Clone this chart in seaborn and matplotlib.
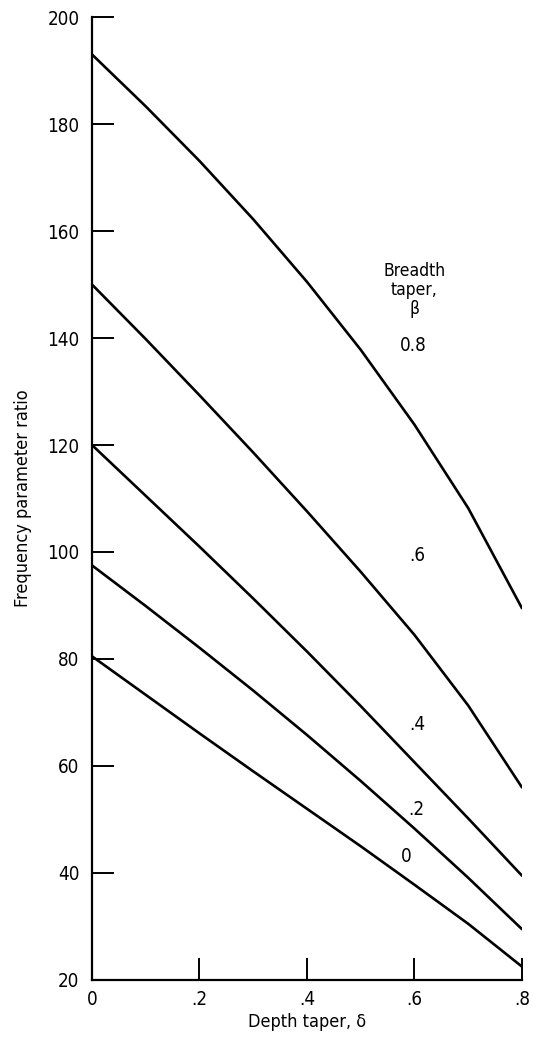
import matplotlib
matplotlib.use("Agg")
import matplotlib.pyplot as plt
import seaborn as sns
import pandas as pd

# Depth taper values
depth = [0.0, 0.1, 0.2, 0.3, 0.4, 0.5, 0.6, 0.7, 0.8]
# Frequency parameter ratio for each breadth taper
beta_08 = [193.0, 183.3, 173.1, 162.2, 150.5, 137.8, 123.8, 108.2, 89.5]
beta_06 = [150.0, 139.8, 129.3, 118.6, 107.6, 96.3, 84.5, 71.3, 56.0]
beta_04 = [120.0, 110.5, 101.0, 91.3, 81.4, 71.2, 60.7, 50.2, 39.5]
beta_02 = [97.5, 89.9, 82.1, 74.1, 65.8, 57.2, 48.3, 39.1, 29.5]
beta_00 = [80.5, 73.3, 66.1, 59.0, 52.0, 45.0, 37.8, 30.5, 22.5]

series_names = ["0.8", ".6", ".4", ".2", "0"]
series_vals = [beta_08, beta_06, beta_04, beta_02, beta_00]

x_ticks = [0, 0.2, 0.4, 0.6, 0.8]
x_ticklabels = ["0", ".2", ".4", ".6", ".8"]
y_ticks = [20, 40, 60, 80, 100, 120, 140, 160, 180, 200]

# label positions (data coordinates) for curve annotations
label_x = [0.598, 0.605, 0.606, 0.603, 0.585]
label_y = [138.6, 99.4, 67.8, 51.9, 43.1]

rows = []
for name, vals in zip(series_names, series_vals):
    for d, v in zip(depth, vals):
        rows.append({"depth": d, "ratio": v, "beta": name})
df = pd.DataFrame(rows)

sns.set_theme(style="ticks")
plt.rcParams["font.family"] = ["DejaVu Sans"]
plt.rcParams["font.stretch"] = "condensed"

fig = plt.figure(figsize=(5.37, 10.38), dpi=100)
ax = fig.add_axes([0.1713, 0.0559, 0.972 - 0.1713, 0.9836 - 0.0559])

sns.lineplot(data=df, x="depth", y="ratio", hue="beta",
             palette=["black"] * 5, legend=False, ax=ax,
             linewidth=1.9, sort=True)

ax.set_xlim(0, 0.8)
ax.set_ylim(20, 200)
ax.set_xticks(x_ticks)
ax.set_xticklabels(x_ticklabels)
ax.set_yticks(y_ticks)
ax.tick_params(axis="both", direction="in", length=16, width=1.4,
               colors="black", labelsize=13.5)
ax.tick_params(axis="y", pad=9)
ax.tick_params(axis="x", pad=7)

for s in ["top", "right"]:
    ax.spines[s].set_visible(False)
for s in ["left", "bottom"]:
    ax.spines[s].set_linewidth(1.6)
    ax.spines[s].set_color("black")

ax.set_xlabel("Depth taper, δ", fontsize=13, labelpad=3, color="black")
ax.set_ylabel("Frequency parameter ratio", fontsize=13, labelpad=11, color="black")

ax.text(0.600, 149.0, "Breadth\ntaper,\nβ", ha="center", va="center",
        fontsize=12.5, linespacing=1.05, color="black")
for name, lx, ly in zip(series_names, label_x, label_y):
    ax.text(lx, ly, name, ha="center", va="center", fontsize=13.5, color="black")

fig.savefig("out.png", dpi=100, facecolor="white")
